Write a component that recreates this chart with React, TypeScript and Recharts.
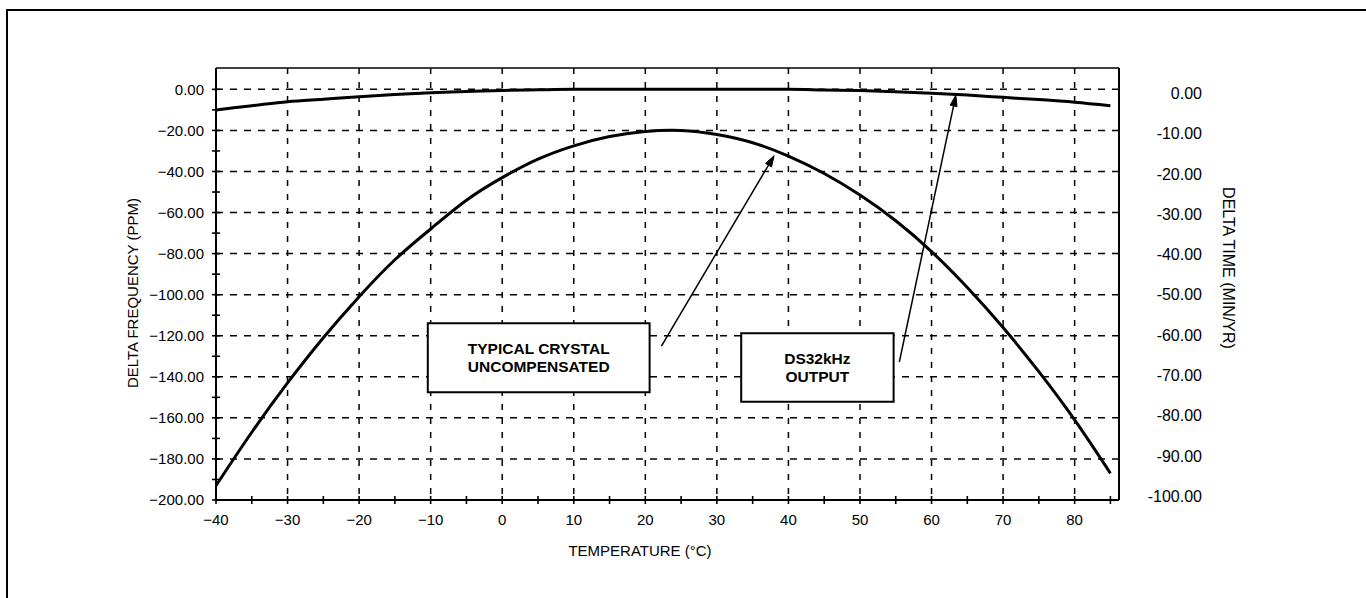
import React from 'react';
import {
  LineChart,
  Line,
  XAxis,
  YAxis,
  CartesianGrid,
  ReferenceArea,
  ReferenceLine,
} from 'recharts';

// ---------- data ----------
const temperatures = [-40, -35, -30, -25, -20, -15, -10, -5, 0, 5, 10, 15, 20, 25, 30, 35, 40, 45, 50, 55, 60, 65, 70, 75, 80, 85];
const uncompensatedPpm = [-193, -167, -143, -121, -101, -83, -68, -54, -43, -34, -27.5, -23, -20.5, -20, -22, -26, -32.5, -41, -51.5, -64, -79, -96.5, -116, -137.5, -161, -187];
const ds32kHzPpm = [-10, -8, -6, -4.8, -3.6, -2.5, -1.6, -1, -0.5, -0.2, 0, 0, 0, 0, 0, 0, 0, -0.3, -0.6, -1.2, -1.9, -2.8, -3.9, -5, -6.3, -8];

const xTicks = [-40, -35, -30, -25, -20, -15, -10, -5, 0, 5, 10, 15, 20, 25, 30, 35, 40, 45, 50, 55, 60, 65, 70, 75, 80, 85];
const xLabelTicks = [-40, -30, -20, -10, 0, 10, 20, 30, 40, 50, 60, 70, 80];
const leftTicks = [0, -10, -20, -30, -40, -50, -60, -70, -80, -90, -100, -110, -120, -130, -140, -150, -160, -170, -180, -190, -200];
const leftLabelTicks = [0, -20, -40, -60, -80, -100, -120, -140, -160, -180, -200];
const rightTicks = [0, -10, -20, -30, -40, -50, -60, -70, -80, -90, -100];
const horizontalGrid = [0, -20, -40, -60, -80, -100, -120, -140, -160, -180];
const verticalGrid = [-30, -20, -10, 0, 10, 20, 30, 40, 50, 60, 70, 80];

const xDomain = [-40, 86.2];
const leftDomain = [-200, 10.4];
const rightDomain = [-101, 6.3];

// annotation boxes [x1, x2, y1, y2] in data units and their text
const crystalBox = [-10.4, 20.6, -147.5, -113.9];
const crystalText = ['TYPICAL CRYSTAL', 'UNCOMPENSATED'];
const dsBox = [33.4, 54.7, -152.1, -118.8];
const dsText = ['DS32kHz', 'OUTPUT'];
// arrows [fromT, fromPpm, toT, toPpm]
const crystalArrow = [22.25, -125, 38.0, -32.3];
const dsArrow = [55.5, -132.8, 63.4, -2.8];

const data = temperatures.map((t, i) => ({
  t,
  uncomp: uncompensatedPpm[i],
  ds: ds32kHzPpm[i],
}));

const FONT = '"Liberation Sans", Arial, Helvetica, sans-serif';
const TICK_SIZE = 4;
const Y_MARGIN = 8;
const X_MARGIN = 10;

const fmtLeft = (v: number) => (v === 0 ? '0.00' : '\u2212' + Math.abs(v).toFixed(2));
const fmtX = (v: number) => (v < 0 ? '\u2212' + Math.abs(v) : String(v));

const LeftTick = (props: any) => {
  const { x, y, payload } = props;
  const ax = x + TICK_SIZE + Y_MARGIN;
  const v = payload.value;
  const major = leftLabelTicks.includes(v);
  return (
    <g>
      <line x1={ax - 4} x2={ax + 4} y1={y} y2={y} stroke="#000" strokeWidth={1.6} />
      {major && (
        <text x={x} y={y} dy={5.4} textAnchor="end" fontSize={15} fontFamily={FONT} fill="#000">
          {fmtLeft(v)}
        </text>
      )}
    </g>
  );
};

const BottomTick = (props: any) => {
  const { x, y, payload } = props;
  const ay = y - TICK_SIZE - X_MARGIN;
  const v = payload.value;
  const major = xLabelTicks.includes(v);
  return (
    <g>
      <line x1={x} x2={x} y1={ay - 4} y2={ay + 4} stroke="#000" strokeWidth={1.6} />
      {major && (
        <text x={x} y={y} dy={10.5} textAnchor="middle" fontSize={15} fontFamily={FONT} fill="#000">
          {fmtX(v)}
        </text>
      )}
    </g>
  );
};

const RightTick = (props: any) => {
  const { x, y, payload } = props;
  return (
    <text x={x} y={y} dy={5.8} textAnchor="end" fontSize={16} fontFamily={FONT} fill="#000">
      {Number(payload.value).toFixed(2)}
    </text>
  );
};

const leftTitle = (props: any) => {
  const vb = props.viewBox || {};
  const cx = vb.x - 24;
  const cy = vb.y + vb.height / 2 + 9;
  return (
    <text x={cx} y={cy} transform={`rotate(-90 ${cx} ${cy})`} textAnchor="middle" dominantBaseline="central" fontSize={15} fontFamily={FONT} fill="#000">
      DELTA FREQUENCY (PPM)
    </text>
  );
};

const rightTitle = (props: any) => {
  const vb = props.viewBox || {};
  const cx = vb.x + 109;
  const cy = vb.y + vb.height / 2 - 16;
  return (
    <text x={cx} y={cy} transform={`rotate(90 ${cx} ${cy})`} textAnchor="middle" dominantBaseline="central" fontSize={16} fontFamily={FONT} fill="#000">
      DELTA TIME (MIN/YR)
    </text>
  );
};

const bottomTitle = (props: any) => {
  const vb = props.viewBox || {};
  const cx = vb.x + vb.width / 2 - 27.5;
  const cy = 556;
  return (
    <text x={cx} y={cy} textAnchor="middle" fontSize={15} fontFamily={FONT} fill="#000">
      TEMPERATURE (°C)
    </text>
  );
};

const boxLabel = (lines: string[]) => (props: any) => {
  const vb = props.viewBox || {};
  const cx = vb.x + vb.width / 2;
  const cy = vb.y + vb.height / 2;
  return (
    <g>
      {lines.map((l, i) => (
        <text key={i} x={cx} y={cy + (i === 0 ? -9 : 9) + 5.5} textAnchor="middle" fontSize={15.5} fontWeight="bold" fontFamily={FONT} fill="#000">
          {l}
        </text>
      ))}
    </g>
  );
};

const ArrowShape = (props: any) => {
  const { x1, y1, x2, y2 } = props;
  if ([x1, y1, x2, y2].some((v) => typeof v !== 'number' || isNaN(v))) return null;
  const dx = x2 - x1;
  const dy = y2 - y1;
  const len = Math.sqrt(dx * dx + dy * dy) || 1;
  const ux = dx / len;
  const uy = dy / len;
  const headLen = 11;
  const headW = 3.5;
  const bx = x2 - ux * headLen;
  const by = y2 - uy * headLen;
  const px = -uy;
  const py = ux;
  return (
    <g>
      <line x1={x1} y1={y1} x2={bx} y2={by} stroke="#000" strokeWidth={1.5} />
      <polygon
        points={`${x2},${y2} ${bx + px * headW},${by + py * headW} ${bx - px * headW},${by - py * headW}`}
        fill="#000"
        stroke="#000"
        strokeWidth={1}
      />
    </g>
  );
};

export default function App() {
  return (
    <div
      style={{
        position: 'absolute',
        left: 0,
        top: 0,
        width: 1366,
        height: 598,
        overflow: 'hidden',
        background: '#fff',
      }}
    >
      <div
        style={{
          position: 'absolute',
          left: 6,
          top: 9,
          width: 1420,
          height: 700,
          border: '2px solid #000',
          boxSizing: 'border-box',
        }}
      />
      <div style={{ position: 'absolute', left: 0, top: 0 }}>
        <LineChart
          width={1366}
          height={598}
          data={data}
          margin={{ top: 68, right: 187, bottom: 68, left: 156 }}
        >
          <CartesianGrid
            yAxisId="left"
            horizontal={true}
            vertical={false}
            horizontalValues={horizontalGrid}
            stroke="#000"
            strokeWidth={1.5}
            strokeDasharray="7 7"
          />
          <CartesianGrid
            yAxisId="left"
            horizontal={false}
            vertical={true}
            verticalValues={verticalGrid}
            stroke="#000"
            strokeWidth={1.5}
            strokeDasharray="6 8"
          />
          <XAxis
            dataKey="t"
            type="number"
            domain={xDomain}
            ticks={xTicks}
            interval={0}
            height={30}
            tickSize={TICK_SIZE}
            tickMargin={X_MARGIN}
            tickLine={false}
            axisLine={{ stroke: '#000', strokeWidth: 2 }}
            tick={<BottomTick />}
            label={bottomTitle}
          />
          <YAxis
            yAxisId="left"
            type="number"
            domain={leftDomain}
            ticks={leftTicks}
            interval={0}
            width={60}
            tickSize={TICK_SIZE}
            tickMargin={Y_MARGIN}
            tickLine={false}
            axisLine={{ stroke: '#000', strokeWidth: 2 }}
            tick={<LeftTick />}
            label={leftTitle}
          />
          <YAxis
            yAxisId="right"
            orientation="right"
            type="number"
            domain={rightDomain}
            allowDataOverflow={true}
            ticks={rightTicks}
            interval={0}
            width={60}
            tickSize={0}
            tickMargin={83}
            tickLine={false}
            axisLine={{ stroke: '#000', strokeWidth: 2 }}
            tick={<RightTick />}
            label={rightTitle}
          />
          <ReferenceLine yAxisId="left" y={leftDomain[1]} stroke="#000" strokeWidth={1.5} />
          <ReferenceArea
            yAxisId="left"
            x1={crystalBox[0]}
            x2={crystalBox[1]}
            y1={crystalBox[2]}
            y2={crystalBox[3]}
            fill="#fff"
            fillOpacity={1}
            stroke="#000"
            strokeWidth={2}
            label={boxLabel(crystalText)}
          />
          <ReferenceArea
            yAxisId="left"
            x1={dsBox[0]}
            x2={dsBox[1]}
            y1={dsBox[2]}
            y2={dsBox[3]}
            fill="#fff"
            fillOpacity={1}
            stroke="#000"
            strokeWidth={2}
            label={boxLabel(dsText)}
          />
          <Line
            yAxisId="left"
            type="natural"
            dataKey="uncomp"
            stroke="#000"
            strokeWidth={3}
            dot={false}
            activeDot={false}
            isAnimationActive={false}
          />
          <Line
            yAxisId="left"
            type="monotone"
            dataKey="ds"
            stroke="#000"
            strokeWidth={3}
            dot={false}
            activeDot={false}
            isAnimationActive={false}
          />
          <ReferenceLine
            yAxisId="left"
            segment={[
              { x: crystalArrow[0], y: crystalArrow[1] },
              { x: crystalArrow[2], y: crystalArrow[3] },
            ]}
            stroke="#000"
            shape={(p: any) => <ArrowShape {...p} />}
          />
          <ReferenceLine
            yAxisId="left"
            segment={[
              { x: dsArrow[0], y: dsArrow[1] },
              { x: dsArrow[2], y: dsArrow[3] },
            ]}
            stroke="#000"
            shape={(p: any) => <ArrowShape {...p} />}
          />
        </LineChart>
      </div>
    </div>
  );
}
